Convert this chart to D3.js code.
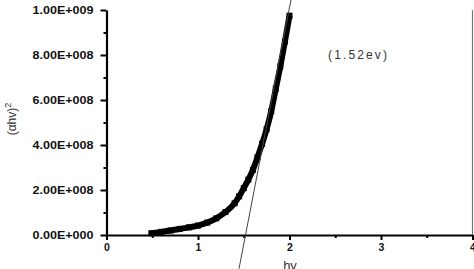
<!DOCTYPE html>
<html>
<head>
<meta charset="utf-8">
<script src="https://cdn.jsdelivr.net/npm/d3@7"></script>
<style>
  body { margin: 0; background: #fff; }
  svg { display: block; }
  text { font-family: "Liberation Sans", Arial, sans-serif; }
</style>
</head>
<body>
<div id="chart"></div>
<script>
// photon energy hv (eV) and (alpha*h*v)^2 in units of 1e8
var hv = [0.49, 0.6, 0.7, 0.8, 0.9, 1.0, 1.1, 1.2, 1.3, 1.4, 1.45, 1.5, 1.55, 1.6, 1.65, 1.7, 1.75, 1.8, 1.85, 1.9, 1.95, 2.0];
var ahv2 = [0.08, 0.14, 0.2, 0.27, 0.34, 0.42, 0.55, 0.74, 1.02, 1.41, 1.72, 2.08, 2.46, 2.89, 3.45, 4.05, 4.7, 5.5, 6.5, 7.5, 8.6, 9.75];
// tangent (extrapolation) line end points
var fitX = [1.448, 2.016];
var fitY = [-1.5, 10.45];
var xTicks = [0, 1, 2, 3, 4];
var xMinor = [0.5, 1.5, 2.5, 3.5];
var yTicks = [0, 2e8, 4e8, 6e8, 8e8, 1e9];
var yMinor = [1e8, 3e8, 5e8, 7e8, 9e8];
var gapLabel = "(1.52ev)";

var width = 474, height = 269;
var svg = d3.select("#chart").append("svg")
  .attr("width", width)
  .attr("height", height);

var x = d3.scaleLinear().domain([0, 4]).range([106.5, 472.5]);
var y = d3.scaleLinear().domain([0, 1e9]).range([235, 10]);

function sci(v) {
  if (v === 0) return "0.00E+000";
  var e = Math.floor(Math.log10(v));
  var m = v / Math.pow(10, e);
  return m.toFixed(2) + "E+" + String(e).padStart(3, "0");
}

// right frame line
svg.append("line")
  .attr("x1", x(4)).attr("x2", x(4))
  .attr("y1", y(1e9)).attr("y2", y(0))
  .attr("stroke", "#777").attr("stroke-width", 1.2);

// minor ticks
svg.append("g").attr("transform", "translate(0," + y(0) + ")")
  .call(d3.axisBottom(x).tickValues(xMinor).tickSize(3).tickFormat(""))
  .call(function (g) { g.select(".domain").remove(); g.selectAll("line").attr("stroke-width", 2); });
svg.append("g").attr("transform", "translate(" + x(0) + ",0)")
  .call(d3.axisLeft(y).tickValues(yMinor).tickSize(3).tickFormat(""))
  .call(function (g) { g.select(".domain").remove(); g.selectAll("line").attr("stroke-width", 2); });

// main axes
var xAxis = svg.append("g").attr("transform", "translate(0," + y(0) + ")")
  .call(d3.axisBottom(x).tickValues(xTicks).tickSize(5).tickSizeOuter(0).tickPadding(4).tickFormat(d3.format("d")));
xAxis.select(".domain").attr("stroke-width", 2.2);
xAxis.selectAll("line").attr("stroke-width", 2);
xAxis.selectAll("text").attr("font-size", "10.5px").attr("font-weight", "bold").attr("fill", "#111")
  .attr("font-family", "'Liberation Sans', Arial, sans-serif");

var yAxis = svg.append("g").attr("transform", "translate(" + x(0) + ",0)")
  .call(d3.axisLeft(y).tickValues(yTicks).tickSize(6).tickSizeOuter(0).tickPadding(7).tickFormat(sci));
yAxis.select(".domain").attr("stroke-width", 2.2);
yAxis.selectAll("line").attr("stroke-width", 2);
yAxis.selectAll("text").attr("font-size", "10.5px").attr("font-weight", "bold").attr("fill", "#111")
  .attr("font-family", "'Liberation Sans', Arial, sans-serif")
  .attr("textLength", 61).attr("lengthAdjust", "spacingAndGlyphs");

// data curve
var pts = hv.map(function (d, i) { return [d, ahv2[i] * 1e8]; });
svg.append("path")
  .datum(pts)
  .attr("fill", "none")
  .attr("stroke", "#000")
  .attr("stroke-width", 6)
  .attr("d", d3.line().curve(d3.curveMonotoneX).x(function (d) { return x(d[0]); }).y(function (d) { return y(d[1]); }));
svg.selectAll("rect.pt")
  .data(pts).enter().append("rect")
  .attr("class", "pt")
  .attr("x", function (d) { return x(d[0]) - 3; })
  .attr("y", function (d) { return y(d[1]) - 3; })
  .attr("width", 6).attr("height", 6)
  .attr("fill", "#000");

// tangent line
svg.append("line")
  .attr("x1", x(fitX[0])).attr("y1", y(fitY[0] * 1e8))
  .attr("x2", x(fitX[1])).attr("y2", y(fitY[1] * 1e8))
  .attr("stroke", "#444").attr("stroke-width", 1);

// labels
svg.append("text")
  .attr("x", 328).attr("y", 59)
  .attr("font-size", "12px").attr("fill", "#333")
  .attr("textLength", 59).attr("lengthAdjust", "spacing")
  .text(gapLabel);

svg.append("text")
  .attr("x", 290).attr("y", 270)
  .attr("text-anchor", "middle")
  .attr("font-size", "13px").attr("fill", "#333")
  .text("hv");

var yt = svg.append("text")
  .attr("transform", "translate(16,119) rotate(-90)")
  .attr("text-anchor", "middle")
  .attr("font-size", "12px").attr("fill", "#333");
yt.append("tspan").text("(\u03b1hv)");
yt.append("tspan").attr("dy", -5).attr("font-size", "9px").text("2");
</script>
</body>
</html>
